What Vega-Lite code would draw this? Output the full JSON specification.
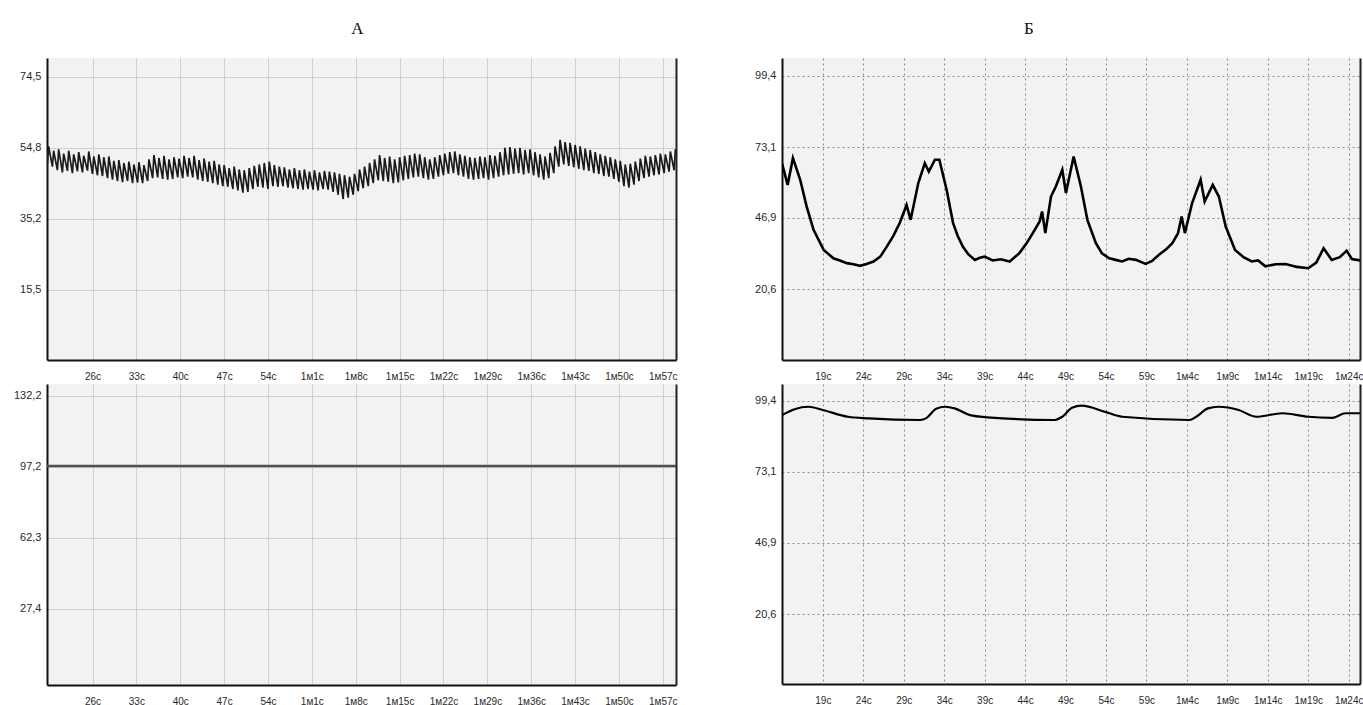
{
  "$schema": "https://vega.github.io/schema/vega-lite/v6.json",
  "background": "white",
  "padding": {"left": 12, "top": 20, "right": 0, "bottom": 0},
  "config": {
    "view": {"fill": "#f2f2f2", "stroke": null},
    "font": "Liberation Sans",
    "title": {"font": "Liberation Serif", "fontSize": 17, "fontWeight": "normal", "color": "#111", "anchor": "middle", "offset": 20},
    "axis": {"title": null, "ticks": false, "domainColor": "#111", "domainWidth": 2, "labelColor": "#2a2a2a", "labelFlush": false, "labelOverlap": false}
  },
  "spacing": 72,
  "datasets": {
    "pulseA": [
      {"t":18.74,"v":52.8},{"t":18.8,"v":50.4},{"t":19.0,"v":55.2},{"t":19.6,"v":49.6},{"t":19.8,"v":54.0},{"t":20.4,"v":48.6},{"t":20.6,"v":54.4},{"t":21.2,"v":48.0},{"t":21.4,"v":53.2},{"t":22.0,"v":48.4},{"t":22.2,"v":54.0},
      {"t":22.8,"v":47.8},{"t":23.0,"v":53.0},{"t":23.6,"v":48.3},{"t":23.8,"v":53.6},{"t":24.4,"v":48.0},{"t":24.6,"v":52.6},{"t":25.2,"v":48.5},{"t":25.4,"v":53.8},{"t":26.0,"v":47.6},{"t":26.2,"v":52.4},
      {"t":26.8,"v":47.2},{"t":27.0,"v":53.0},{"t":27.6,"v":47.0},{"t":27.8,"v":52.2},{"t":28.4,"v":46.4},{"t":28.6,"v":52.4},{"t":29.2,"v":46.0},{"t":29.4,"v":51.2},{"t":30.0,"v":45.6},{"t":30.2,"v":51.4},
      {"t":30.8,"v":45.3},{"t":31.0,"v":50.6},{"t":31.6,"v":45.6},{"t":31.8,"v":51.0},{"t":32.4,"v":45.0},{"t":32.6,"v":50.2},{"t":33.2,"v":45.2},{"t":33.4,"v":50.8},{"t":34.0,"v":45.0},{"t":34.2,"v":50.0},
      {"t":34.8,"v":45.6},{"t":35.0,"v":51.6},{"t":35.6,"v":46.4},{"t":35.8,"v":52.8},{"t":36.4,"v":46.6},{"t":36.6,"v":52.0},{"t":37.2,"v":46.2},{"t":37.4,"v":52.6},{"t":38.0,"v":46.0},{"t":38.2,"v":51.6},
      {"t":38.8,"v":46.2},{"t":39.0,"v":52.2},{"t":39.6,"v":46.6},{"t":39.8,"v":51.8},{"t":40.4,"v":46.4},{"t":40.6,"v":52.6},{"t":41.2,"v":46.8},{"t":41.4,"v":52.0},{"t":42.0,"v":46.6},{"t":42.2,"v":52.6},
      {"t":42.8,"v":46.0},{"t":43.0,"v":51.4},{"t":43.6,"v":45.6},{"t":43.8,"v":51.8},{"t":44.4,"v":45.4},{"t":44.6,"v":51.0},{"t":45.2,"v":45.0},{"t":45.4,"v":51.2},{"t":46.0,"v":44.6},{"t":46.2,"v":50.2},
      {"t":46.8,"v":44.2},{"t":47.0,"v":50.0},{"t":47.6,"v":44.0},{"t":47.8,"v":49.2},{"t":48.4,"v":43.4},{"t":48.6,"v":49.6},{"t":49.2,"v":43.0},{"t":49.4,"v":48.8},{"t":50.0,"v":42.4},{"t":50.2,"v":48.6},
      {"t":50.8,"v":42.6},{"t":51.0,"v":49.2},{"t":51.6,"v":43.4},{"t":51.8,"v":49.8},{"t":52.4,"v":44.0},{"t":52.6,"v":50.2},{"t":53.2,"v":43.8},{"t":53.4,"v":50.6},{"t":54.0,"v":43.4},{"t":54.2,"v":51.0},
      {"t":54.8,"v":44.2},{"t":55.0,"v":50.0},{"t":55.6,"v":44.0},{"t":55.8,"v":49.6},{"t":56.4,"v":44.2},{"t":56.6,"v":49.4},{"t":57.2,"v":43.8},{"t":57.4,"v":48.8},{"t":58.0,"v":43.6},{"t":58.2,"v":49.2},
      {"t":58.8,"v":43.4},{"t":59.0,"v":48.6},{"t":59.6,"v":43.2},{"t":59.8,"v":48.8},{"t":60.4,"v":43.4},{"t":60.6,"v":48.2},{"t":61.2,"v":43.2},{"t":61.4,"v":48.6},{"t":62.0,"v":43.0},{"t":62.2,"v":48.0},
      {"t":62.8,"v":43.4},{"t":63.0,"v":48.4},{"t":63.6,"v":43.2},{"t":63.8,"v":48.2},{"t":64.4,"v":42.6},{"t":64.6,"v":48.0},{"t":65.2,"v":41.8},{"t":65.4,"v":47.6},{"t":66.0,"v":40.6},{"t":66.2,"v":47.2},
      {"t":66.8,"v":41.0},{"t":67.0,"v":46.8},{"t":67.6,"v":41.8},{"t":67.8,"v":47.6},{"t":68.4,"v":42.8},{"t":68.6,"v":48.8},{"t":69.2,"v":43.6},{"t":69.4,"v":49.6},{"t":70.0,"v":44.2},{"t":70.2,"v":50.6},
      {"t":70.8,"v":45.0},{"t":71.0,"v":51.6},{"t":71.6,"v":45.8},{"t":71.8,"v":52.8},{"t":72.4,"v":45.6},{"t":72.6,"v":52.0},{"t":73.2,"v":45.4},{"t":73.4,"v":52.4},{"t":74.0,"v":45.0},{"t":74.2,"v":51.6},
      {"t":74.8,"v":45.2},{"t":75.0,"v":52.2},{"t":75.6,"v":45.8},{"t":75.8,"v":52.6},{"t":76.4,"v":46.2},{"t":76.6,"v":52.8},{"t":77.2,"v":46.6},{"t":77.4,"v":53.2},{"t":78.0,"v":46.8},{"t":78.2,"v":53.0},
      {"t":78.8,"v":46.4},{"t":79.0,"v":52.2},{"t":79.6,"v":46.0},{"t":79.8,"v":51.6},{"t":80.4,"v":46.2},{"t":80.6,"v":52.2},{"t":81.2,"v":46.8},{"t":81.4,"v":52.8},{"t":82.0,"v":47.2},{"t":82.2,"v":53.2},
      {"t":82.8,"v":47.6},{"t":83.0,"v":53.6},{"t":83.6,"v":47.8},{"t":83.8,"v":53.8},{"t":84.4,"v":47.2},{"t":84.6,"v":53.0},{"t":85.2,"v":46.8},{"t":85.4,"v":52.6},{"t":86.0,"v":46.2},{"t":86.2,"v":52.2},
      {"t":86.8,"v":46.0},{"t":87.0,"v":52.0},{"t":87.6,"v":46.2},{"t":87.8,"v":52.4},{"t":88.4,"v":46.4},{"t":88.6,"v":52.2},{"t":89.2,"v":46.0},{"t":89.4,"v":52.8},{"t":90.0,"v":46.4},{"t":90.2,"v":52.6},
      {"t":90.8,"v":46.8},{"t":91.0,"v":53.6},{"t":91.6,"v":47.2},{"t":91.8,"v":54.8},{"t":92.4,"v":47.4},{"t":92.6,"v":55.0},{"t":93.2,"v":47.6},{"t":93.4,"v":54.6},{"t":94.0,"v":47.8},{"t":94.2,"v":54.8},
      {"t":94.8,"v":47.4},{"t":95.0,"v":54.2},{"t":95.6,"v":47.8},{"t":95.8,"v":54.4},{"t":96.4,"v":47.2},{"t":96.6,"v":53.6},{"t":97.2,"v":46.6},{"t":97.4,"v":53.0},{"t":98.0,"v":46.0},{"t":98.2,"v":52.4},
      {"t":98.8,"v":46.4},{"t":99.0,"v":53.4},{"t":99.6,"v":47.8},{"t":99.8,"v":55.2},{"t":100.4,"v":49.6},{"t":100.6,"v":57.0},{"t":101.2,"v":50.2},{"t":101.4,"v":56.4},{"t":102.0,"v":49.8},{"t":102.2,"v":56.2},
      {"t":102.8,"v":49.4},{"t":103.0,"v":55.6},{"t":103.6,"v":49.0},{"t":103.8,"v":55.2},{"t":104.4,"v":48.6},{"t":104.6,"v":54.6},{"t":105.2,"v":48.4},{"t":105.4,"v":54.2},{"t":106.0,"v":47.8},{"t":106.2,"v":53.6},
      {"t":106.8,"v":47.6},{"t":107.0,"v":53.0},{"t":107.6,"v":47.0},{"t":107.8,"v":52.6},{"t":108.4,"v":46.8},{"t":108.6,"v":52.2},{"t":109.2,"v":46.2},{"t":109.4,"v":51.6},{"t":110.0,"v":45.4},{"t":110.2,"v":51.2},
      {"t":110.8,"v":44.2},{"t":111.0,"v":50.2},{"t":111.6,"v":43.8},{"t":111.8,"v":50.4},{"t":112.4,"v":44.6},{"t":112.6,"v":51.0},{"t":113.2,"v":45.6},{"t":113.4,"v":51.8},{"t":114.0,"v":46.4},{"t":114.2,"v":52.6},
      {"t":114.8,"v":46.8},{"t":115.0,"v":52.4},{"t":115.6,"v":47.2},{"t":115.8,"v":52.8},{"t":116.4,"v":47.4},{"t":116.6,"v":53.2},{"t":117.2,"v":47.8},{"t":117.4,"v":53.0},{"t":118.0,"v":48.2},{"t":118.2,"v":53.8},
      {"t":118.8,"v":48.6},{"t":119.0,"v":54.4}
    ],
    "flatA": [{"t":18.74,"v":97.6},{"t":119.1,"v":97.6}],
    "curveB1": [
      {"t":13.95,"v":67.1},{"t":14.65,"v":59.1},{"t":15.3,"v":69.0},{"t":16.2,"v":61.0},{"t":17.0,"v":51.1},{"t":17.85,"v":42.5},{"t":19.1,"v":35.1},{"t":20.3,"v":32.0},{"t":21.1,"v":31.2},{"t":21.95,"v":30.2},{"t":22.8,"v":29.8},{"t":23.6,"v":29.2},{"t":24.4,"v":29.9},{"t":25.25,"v":30.8},{"t":26.1,"v":32.6},{"t":26.9,"v":36.3},{"t":27.7,"v":40.2},{"t":28.5,"v":45.0},{"t":29.35,"v":51.7},{"t":29.85,"v":46.2},{"t":30.8,"v":59.8},{"t":31.6,"v":67.1},{"t":32.1,"v":64.0},{"t":32.85,"v":68.4},{"t":33.4,"v":68.4},{"t":34.3,"v":57.3},{"t":35.1,"v":45.0},{"t":35.7,"v":40.0},{"t":36.3,"v":36.3},{"t":37.0,"v":33.4},{"t":37.8,"v":31.4},{"t":38.4,"v":32.2},{"t":39.0,"v":32.6},{"t":40.0,"v":31.2},{"t":41.0,"v":31.6},{"t":42.1,"v":30.8},{"t":43.3,"v":33.9},{"t":44.2,"v":37.6},{"t":44.95,"v":41.3},{"t":45.8,"v":45.6},{"t":46.1,"v":49.3},{"t":46.5,"v":41.3},{"t":47.2,"v":54.8},{"t":47.8,"v":58.5},{"t":48.6,"v":64.7},{"t":49.05,"v":56.1},{"t":50.0,"v":69.6},{"t":50.9,"v":58.5},{"t":51.7,"v":46.2},{"t":52.75,"v":37.6},{"t":53.5,"v":33.8},{"t":54.4,"v":32.0},{"t":55.2,"v":31.4},{"t":56.0,"v":30.8},{"t":56.8,"v":31.8},{"t":57.7,"v":31.4},{"t":58.9,"v":29.9},{"t":59.7,"v":31.0},{"t":60.55,"v":33.3},{"t":61.4,"v":35.2},{"t":62.2,"v":37.6},{"t":62.9,"v":41.2},{"t":63.35,"v":47.4},{"t":63.75,"v":41.3},{"t":64.65,"v":52.4},{"t":65.7,"v":61.0},{"t":66.2,"v":53.0},{"t":67.2,"v":59.1},{"t":67.95,"v":54.8},{"t":68.8,"v":43.7},{"t":69.95,"v":35.1},{"t":71.0,"v":32.4},{"t":72.0,"v":30.8},{"t":72.8,"v":31.2},{"t":73.7,"v":29.0},{"t":75.0,"v":29.8},{"t":76.2,"v":29.9},{"t":77.6,"v":28.8},{"t":79.0,"v":28.3},{"t":80.0,"v":30.4},{"t":80.9,"v":35.7},{"t":81.9,"v":31.4},{"t":82.9,"v":32.4},{"t":83.75,"v":34.8},{"t":84.4,"v":31.7},{"t":85.4,"v":31.2}
    ],
    "curveB2": [
      {"t":13.95,"v":94.1},{"t":15.5,"v":96.3},{"t":17.2,"v":97.2},{"t":19.0,"v":96.0},{"t":22.1,"v":93.5},{"t":24.7,"v":92.9},{"t":31.0,"v":92.3},{"t":31.8,"v":93.0},{"t":33.0,"v":96.5},{"t":34.1,"v":97.2},{"t":35.3,"v":96.6},{"t":37.2,"v":94.1},{"t":39.3,"v":93.3},{"t":47.6,"v":92.3},{"t":48.6,"v":93.5},{"t":49.8,"v":96.8},{"t":51.0,"v":97.6},{"t":53.9,"v":95.3},{"t":56.0,"v":93.5},{"t":64.3,"v":92.3},{"t":65.2,"v":93.6},{"t":66.6,"v":96.6},{"t":67.9,"v":97.2},{"t":70.4,"v":96.0},{"t":72.6,"v":93.5},{"t":75.8,"v":94.8},{"t":79.0,"v":93.5},{"t":82.0,"v":93.1},{"t":83.6,"v":94.8},{"t":85.4,"v":94.8}
    ]
  },
  "hconcat": [
    {
      "title": {"text": "А", "dx": 11},
      "spacing": 3,
      "vconcat": [
        {
          "width": 629, "height": 302,
          "data": {"name": "pulseA"},
          "layer": [
            {
              "mark": {"type": "line", "color": "#1a1a1a", "strokeWidth": 1.7, "clip": true},
              "encoding": {
                "x": {"field": "t", "type": "quantitative", "scale": {"domain": [18.74, 119.1], "nice": false, "zero": false},
                  "axis": {"values": [26,33,40,47,54,61,68,75,82,89,96,103,110,117], "labelExpr": "datum.value < 60 ? datum.value + 'с' : '1м' + (datum.value - 60) + 'с'", "grid": true, "gridColor": "#cfcfcf", "labelPadding": 11, "labelFontSize": 10}},
                "y": {"field": "v", "type": "quantitative", "scale": {"domain": [-4, 79.7], "nice": false, "zero": false},
                  "axis": {"values": [15.5, 35.2, 54.8, 74.5], "labelExpr": "replace(format(datum.value, '.1f'), '.', ',')", "grid": true, "gridColor": "#cfcfcf", "labelPadding": 6, "labelFontSize": 11, "minExtent": 35, "maxExtent": 35}}
              }
            },
            {
              "mark": {"type": "line", "opacity": 0},
              "encoding": {
                "x": {"field": "t", "type": "quantitative"},
                "y": {"field": "v", "type": "quantitative", "axis": {"orient": "right", "labels": false, "grid": false, "domainColor": "#222", "domainWidth": 2, "minExtent": 0, "maxExtent": 0}}
              }
            }
          ],
          "resolve": {"axis": {"y": "independent"}}
        },
        {
          "width": 629, "height": 301,
          "data": {"name": "flatA"},
          "layer": [
            {
              "mark": {"type": "line", "color": "#505050", "strokeWidth": 2.5},
              "encoding": {
                "x": {"field": "t", "type": "quantitative", "scale": {"domain": [18.74, 119.1], "nice": false, "zero": false},
                  "axis": {"values": [26,33,40,47,54,61,68,75,82,89,96,103,110,117], "labelExpr": "datum.value < 60 ? datum.value + 'с' : '1м' + (datum.value - 60) + 'с'", "grid": true, "gridColor": "#cfcfcf", "labelPadding": 11, "labelFontSize": 10}},
                "y": {"field": "v", "type": "quantitative", "scale": {"domain": [-10.1, 138], "nice": false, "zero": false},
                  "axis": {"values": [27.4, 62.3, 97.2, 132.2], "labelExpr": "replace(format(datum.value, '.1f'), '.', ',')", "grid": true, "gridColor": "#cfcfcf", "labelPadding": 6, "labelFontSize": 11, "minExtent": 35, "maxExtent": 35}}
              }
            },
            {
              "mark": {"type": "line", "opacity": 0},
              "encoding": {
                "x": {"field": "t", "type": "quantitative"},
                "y": {"field": "v", "type": "quantitative", "axis": {"orient": "right", "labels": false, "grid": false, "domainColor": "#222", "domainWidth": 2, "minExtent": 0, "maxExtent": 0}}
              }
            }
          ],
          "resolve": {"axis": {"y": "independent"}}
        }
      ]
    },
    {
      "title": {"text": "Б", "dx": -29},
      "spacing": 3,
      "vconcat": [
        {
          "width": 578, "height": 302,
          "data": {"name": "curveB1"},
          "layer": [
            {
              "mark": {"type": "line", "color": "#000", "strokeWidth": 2.6, "clip": true},
              "encoding": {
                "x": {"field": "t", "type": "quantitative", "scale": {"domain": [13.95, 85.4], "nice": false, "zero": false},
                  "axis": {"values": [19,24,29,34,39,44,49,54,59,64,69,74,79,84], "labelExpr": "datum.value < 60 ? datum.value + 'с' : '1м' + (datum.value - 60) + 'с'", "grid": true, "gridColor": "#8c8c8c", "gridDash": [2, 3], "labelPadding": 11, "labelFontSize": 10}},
                "y": {"field": "v", "type": "quantitative", "scale": {"domain": [-5.6, 106], "nice": false, "zero": false},
                  "axis": {"values": [20.6, 46.9, 73.1, 99.4], "labelExpr": "replace(format(datum.value, '.1f'), '.', ',')", "grid": true, "gridColor": "#8c8c8c", "gridDash": [2, 3], "labelPadding": 6, "labelFontSize": 11, "minExtent": 29, "maxExtent": 29}}
              }
            },
            {
              "mark": {"type": "line", "opacity": 0},
              "encoding": {
                "x": {"field": "t", "type": "quantitative"},
                "y": {"field": "v", "type": "quantitative", "axis": {"orient": "right", "labels": false, "grid": false, "domainColor": "#222", "domainWidth": 2, "minExtent": 0, "maxExtent": 0}}
              }
            }
          ],
          "resolve": {"axis": {"y": "independent"}}
        },
        {
          "width": 578, "height": 300,
          "data": {"name": "curveB2"},
          "layer": [
            {
              "mark": {"type": "line", "color": "#000", "strokeWidth": 2.2, "interpolate": "monotone", "clip": true},
              "encoding": {
                "x": {"field": "t", "type": "quantitative", "scale": {"domain": [13.95, 85.4], "nice": false, "zero": false},
                  "axis": {"values": [19,24,29,34,39,44,49,54,59,64,69,74,79,84], "labelExpr": "datum.value < 60 ? datum.value + 'с' : '1м' + (datum.value - 60) + 'с'", "grid": true, "gridColor": "#8c8c8c", "gridDash": [2, 3], "labelPadding": 11, "labelFontSize": 10}},
                "y": {"field": "v", "type": "quantitative", "scale": {"domain": [-5.2, 105.6], "nice": false, "zero": false},
                  "axis": {"values": [20.6, 46.9, 73.1, 99.4], "labelExpr": "replace(format(datum.value, '.1f'), '.', ',')", "grid": true, "gridColor": "#8c8c8c", "gridDash": [2, 3], "labelPadding": 6, "labelFontSize": 11, "minExtent": 29, "maxExtent": 29}}
              }
            },
            {
              "mark": {"type": "line", "opacity": 0},
              "encoding": {
                "x": {"field": "t", "type": "quantitative"},
                "y": {"field": "v", "type": "quantitative", "axis": {"orient": "right", "labels": false, "grid": false, "domainColor": "#222", "domainWidth": 2, "minExtent": 0, "maxExtent": 0}}
              }
            }
          ],
          "resolve": {"axis": {"y": "independent"}}
        }
      ]
    }
  ]
}
